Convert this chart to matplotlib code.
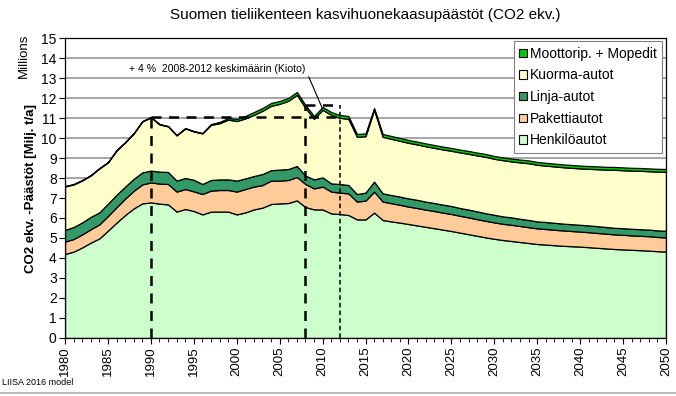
import matplotlib
matplotlib.use("Agg")
import matplotlib.pyplot as plt
import numpy as np
from matplotlib.patches import Patch
from matplotlib.lines import Line2D

plt.rcParams['font.family'] = ['Liberation Sans', 'DejaVu Sans']

years = np.arange(1980, 2051)

# Mt CO2 ekv. per vuosi, luettu kuvasta
henkiloautot = [4.20, 4.32, 4.53, 4.77, 4.98, 5.37, 5.77, 6.15, 6.48, 6.73,
                6.78, 6.72, 6.68, 6.32, 6.45, 6.35, 6.18, 6.32, 6.32, 6.32,
                6.18, 6.28, 6.43, 6.52, 6.70, 6.73, 6.75, 6.88, 6.55, 6.43,
                6.43, 6.23, 6.20, 6.15, 5.93, 5.93, 6.27, 5.90, 5.83, 5.77,
                5.70, 5.63, 5.56, 5.49, 5.42, 5.35, 5.27, 5.19, 5.11, 5.03,
                4.96, 4.90, 4.85, 4.80, 4.75, 4.70, 4.67, 4.64, 4.61, 4.59,
                4.57, 4.54, 4.51, 4.48, 4.45, 4.43, 4.41, 4.39, 4.37, 4.34,
                4.32]
pakettiautot = [0.62, 0.63, 0.65, 0.67, 0.70, 0.73, 0.77, 0.82, 0.88, 0.95,
                1.00, 1.00, 1.02, 1.00, 1.00, 0.98, 1.02, 1.05, 1.08, 1.08,
                1.14, 1.17, 1.14, 1.13, 1.17, 1.14, 1.15, 1.17, 1.15, 1.05,
                1.14, 1.09, 1.07, 1.08, 0.89, 0.94, 1.05, 0.92, 0.91, 0.89,
                0.87, 0.87, 0.86, 0.86, 0.85, 0.85, 0.84, 0.84, 0.83, 0.83,
                0.82, 0.81, 0.81, 0.80, 0.79, 0.78, 0.78, 0.77, 0.77, 0.76,
                0.75, 0.75, 0.74, 0.74, 0.73, 0.73, 0.72, 0.72, 0.72, 0.71,
                0.71]
linja_autot = [0.58, 0.60, 0.60, 0.62, 0.60, 0.62, 0.62, 0.60, 0.60, 0.60,
               0.59, 0.60, 0.60, 0.55, 0.55, 0.58, 0.50, 0.53, 0.53, 0.53,
               0.55, 0.53, 0.53, 0.55, 0.52, 0.55, 0.55, 0.55, 0.42, 0.45,
               0.46, 0.41, 0.43, 0.42, 0.38, 0.40, 0.50, 0.41, 0.41, 0.41,
               0.41, 0.41, 0.40, 0.40, 0.40, 0.40, 0.39, 0.39, 0.39, 0.38,
               0.38, 0.37, 0.37, 0.36, 0.36, 0.35, 0.35, 0.35, 0.34, 0.34,
               0.34, 0.34, 0.34, 0.33, 0.33, 0.33, 0.33, 0.33, 0.33, 0.33,
               0.33]
kuorma_autot = [2.18, 2.13, 2.10, 2.07, 2.20, 2.06, 2.22, 2.21, 2.27, 2.55,
                2.66, 2.36, 2.28, 2.26, 2.48, 2.42, 2.53, 2.76, 2.81, 2.99,
                2.98, 3.00, 3.06, 3.16, 3.22, 3.29, 3.41, 3.56, 3.39, 3.03,
                3.38, 3.43, 3.31, 3.31, 2.86, 2.82, 3.60, 2.83, 2.81, 2.79,
                2.78, 2.77, 2.77, 2.76, 2.76, 2.76, 2.78, 2.79, 2.80, 2.82,
                2.80, 2.81, 2.80, 2.82, 2.84, 2.83, 2.82, 2.82, 2.82, 2.82,
                2.82, 2.83, 2.85, 2.87, 2.90, 2.90, 2.91, 2.92, 2.92, 2.94,
                2.95]
moottoripyorat = [0.02] * 17 + [0.04, 0.06, 0.08, 0.10, 0.12] + \
                 [0.14] * 14 + [0.08] + [0.14] * 34

series = [henkiloautot, pakettiautot, linja_autot, kuorma_autot, moottoripyorat]
labels = ['Henkilöautot', 'Pakettiautot', 'Linja-autot', 'Kuorma-autot',
          'Moottorip. + Mopedit']
colors = ['#ccffcc', '#ffcc99', '#339966', '#ffffcc', '#00cc00']

# Kioto: 1990 taso ja 2008-2012 keskiarvo (+4 %)
kioto_base_year = 1990
kioto_period = [2008, 2012]
kioto_avg = 11.65

fig = plt.figure(figsize=(6.76, 3.96), dpi=100)
ax = fig.add_axes([0.0962, 0.1465, 0.889, 0.7575])

for yv in range(1, 16):
    ax.axhline(yv, color='#a6a6a6', lw=1.4, zorder=0)

ax.stackplot(years, *series, colors=colors, edgecolor='black', linewidth=0.9,
             zorder=2)

total = np.sum(np.array(series), axis=0)
base = total[years == kioto_base_year][0]

ax.plot([kioto_base_year, kioto_base_year], [0, base], color='black',
        lw=1.8, dashes=(4, 3), zorder=3)
ax.plot([kioto_base_year, kioto_period[1]], [base, base], color='black',
        lw=1.8, dashes=(4, 3), zorder=3)
ax.plot([kioto_period[0], kioto_period[0]], [0, kioto_avg], color='black',
        lw=1.8, dashes=(4, 3), zorder=3)
ax.plot(kioto_period, [kioto_avg, kioto_avg], color='black',
        lw=1.8, dashes=(4, 3), zorder=3)
ax.plot([kioto_period[1], kioto_period[1]], [0, kioto_avg], color='black',
        lw=1.1, dashes=(3, 2), zorder=3)

ax.annotate('+ 4 %  2008-2012 keskimäärin (Kioto)', xy=(2010, 11.45),
            xytext=(2008.0, 13.45), ha='right', va='center', fontsize=7.6,
            arrowprops=dict(arrowstyle='-', lw=0.8, color='black',
                            relpos=(1, 0.5), shrinkA=1, shrinkB=0))

ax.set_xlim(1980, 2050)
ax.set_ylim(0, 15)
ax.set_yticks(range(0, 16))
ax.set_xticks(range(1980, 2051, 5))
ax.set_xticks(range(1980, 2051), minor=True)
ax.tick_params(axis='x', labelrotation=90, labelsize=9.5, length=4, pad=2)
ax.tick_params(axis='x', which='minor', length=3)
ax.tick_params(axis='y', labelsize=10, length=4, pad=2)
for sp in ax.spines.values():
    sp.set_linewidth(0.9)
    sp.set_zorder(5)

ax.set_ylabel('CO2 ekv. -Päästöt [Milj. t/a]', fontsize=9.5,
              fontweight='bold', labelpad=3)
ax.set_title('Suomen tieliikenteen kasvihuonekaasupäästöt (CO2 ekv.)',
             fontsize=11, pad=14)
fig.text(0.036, 0.86, 'Millions', rotation=90, ha='center', va='center',
         fontsize=9.5)

handles = [Patch(facecolor=c, edgecolor='black', linewidth=0.8) for c in colors]
leg = ax.legend(handles[::-1], labels[::-1], loc='upper right',
                bbox_to_anchor=(0.996, 0.994), fontsize=10, fancybox=False,
                framealpha=1, edgecolor='#808080', handlelength=0.55,
                handleheight=0.55, handletextpad=0.2, labelspacing=0.55,
                borderpad=0.4, borderaxespad=0.1)
leg.get_frame().set_linewidth(0.8)
leg.set_zorder(6)

fig.text(0.003, 0.022, 'LIISA 2016 model', fontsize=6.5, ha='left',
         va='bottom')
fig.add_artist(Line2D([0, 1], [0.008, 0.008], color='#b0b0b0', lw=1.2))

fig.savefig('out.png', dpi=100)
